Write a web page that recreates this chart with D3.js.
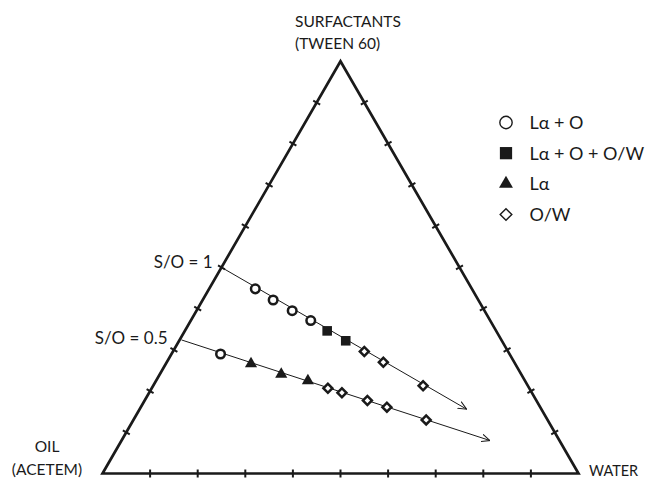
<!DOCTYPE html>
<html>
<head>
<meta charset="utf-8">
<script src="https://cdn.jsdelivr.net/npm/d3@7"></script>
<style>
  html, body { margin: 0; padding: 0; background: #fff; }
  svg { display: block; }
  text { font-family: Lato, "Open Sans", sans-serif; fill: #1a1a1a; }
</style>
</head>
<body>
<svg id="chart" width="651" height="478"></svg>
<script>
// ---------------- data (percent compositions) ----------------
const phases = ["Lα + O", "Lα + O + O/W", "Lα", "O/W"];

// dilution line S/O = 1
const so1Water = [9.7, 14.8, 20.1, 25.2, 29.9, 35.0, 40.2, 45.5, 56.7];
const so1Surf  = [44.8, 42.1, 39.5, 37.1, 34.6, 32.2, 29.6, 27.0, 21.3];
const so1Phase = ["Lα + O", "Lα + O", "Lα + O", "Lα + O", "Lα + O + O/W", "Lα + O + O/W", "O/W", "O/W", "O/W"];
const so1LineWater = [0, 68.7];
const so1LineSurf  = [50, 15.6];

// dilution line S/O = 0.5
const so05Water = [10.3, 17.9, 25.5, 31.9, 37.0, 40.5, 46.8, 51.7, 61.5];
const so05Surf  = [29.0, 26.6, 24.1, 22.5, 20.7, 19.6, 17.7, 16.1, 13.0];
const so05Phase = ["Lα + O", "Lα", "Lα", "Lα", "O/W", "O/W", "O/W", "O/W", "O/W"];
const so05LineWater = [0.4, 77.4];
const so05LineSurf  = [32.4, 8.0];

const lineLabels = ["S/O = 1", "S/O = 0.5"];
const edgeTicks = [10, 20, 30, 40, 50, 60, 70, 80, 90];
const vertexLabels = { top: ["SURFACTANTS", "(TWEEN 60)"], left: ["OIL", "(ACETEM)"], right: ["WATER"] };

// ---------------- layout ----------------
const svg = d3.select("#chart");
const ink = "#1a1a1a";
const O = { x: 102.5, y: 473.5 };   // oil vertex
const W = { x: 578.5, y: 473.5 };   // water vertex
const Th = 412.2;                    // triangle height

// ternary projection built from linear scales
const xs = d3.scaleLinear().domain([0, 100]).range([O.x, W.x]);
const ys = d3.scaleLinear().domain([0, 100]).range([O.y, O.y - Th]);
const px = (w, s) => [xs(w + s / 2), ys(s)];

const oilV = px(0, 0), watV = px(100, 0), topV = px(0, 100);

// triangle
svg.append("path")
  .attr("d", d3.line()([oilV, watV, topV]) + "Z")
  .attr("fill", "none").attr("stroke", ink).attr("stroke-width", 2.7)
  .attr("stroke-linejoin", "miter");

// edge ticks (short marks crossing the edges)
const edges = [
  { a: oilV, b: watV },
  { a: watV, b: topV },
  { a: topV, b: oilV }
];
const tickHalf = 4;
edges.forEach(e => {
  const dx = e.b[0] - e.a[0], dy = e.b[1] - e.a[1];
  const len = Math.hypot(dx, dy);
  const nx = -dy / len, ny = dx / len;
  const t = d3.scaleLinear().domain([0, 100]);
  edgeTicks.forEach(v => {
    const f = t(v);
    const cx = e.a[0] + dx * f, cy = e.a[1] + dy * f;
    svg.append("line")
      .attr("x1", cx - nx * tickHalf).attr("y1", cy - ny * tickHalf)
      .attr("x2", cx + nx * tickHalf).attr("y2", cy + ny * tickHalf)
      .attr("stroke", ink).attr("stroke-width", 2);
  });
});

// arrowhead
svg.append("defs").append("marker")
  .attr("id", "arr").attr("viewBox", "0 0 10 10")
  .attr("refX", 9.5).attr("refY", 5)
  .attr("markerWidth", 9).attr("markerHeight", 9)
  .attr("markerUnits", "userSpaceOnUse")
  .attr("orient", "auto")
  .append("path").attr("d", "M0,0.8 L9.5,5 L0,9.2")
  .attr("fill", "none").attr("stroke", ink).attr("stroke-width", 1.1);

function dilutionLine(wArr, sArr) {
  svg.append("path")
    .attr("d", d3.line()(wArr.map((w, i) => px(w, sArr[i]))))
    .attr("fill", "none").attr("stroke", ink).attr("stroke-width", 1)
    .attr("marker-end", "url(#arr)");
}
dilutionLine(so1LineWater, so1LineSurf);
dilutionLine(so05LineWater, so05LineSurf);

// marker styles per phase
function markerStyle(phase, legend) {
  switch (phase) {
    case "Lα + O":
      return { type: d3.symbolCircle, size: legend ? 120 : 58, fill: "#fff", stroke: legend ? 1.4 : 2.5, rot: 0 };
    case "Lα + O + O/W":
      return { type: d3.symbolSquare, size: legend ? 150 : 92, fill: ink, stroke: 0, rot: 0 };
    case "Lα":
      return { type: d3.symbolTriangle, size: legend ? 84 : 64, fill: ink, stroke: 0, rot: 0 };
    default:
      return { type: d3.symbolSquare, size: legend ? 68 : 40, fill: "#fff", stroke: legend ? 1.4 : 2.5, rot: 45 };
  }
}
function drawMarker(g, phase, x, y, legend) {
  const st = markerStyle(phase, legend);
  g.append("path")
    .attr("d", d3.symbol().type(st.type).size(st.size)())
    .attr("transform", `translate(${x},${y}) rotate(${st.rot})`)
    .attr("fill", st.fill)
    .attr("stroke", st.stroke ? ink : "none")
    .attr("stroke-width", st.stroke);
}

const pts = svg.append("g");
so1Water.forEach((w, i) => { const p = px(w, so1Surf[i]); drawMarker(pts, so1Phase[i], p[0], p[1], false); });
so05Water.forEach((w, i) => { const p = px(w, so05Surf[i]); drawMarker(pts, so05Phase[i], p[0], p[1], false); });

// S/O labels
const s1 = px(so1LineWater[0], so1LineSurf[0]);
const s2 = px(so05LineWater[0], so05LineSurf[0]);
svg.append("text").attr("x", s1[0] - 9).attr("y", s1[1] + 0.5).attr("text-anchor", "end")
  .attr("font-size", 17).text(lineLabels[0]);
svg.append("text").attr("x", s2[0] - 14).attr("y", s2[1] + 4).attr("text-anchor", "end")
  .attr("font-size", 17).text(lineLabels[1]);

// vertex labels
const vfs = 15.5;
svg.append("text").attr("x", 295).attr("y", 27).attr("font-size", vfs).text(vertexLabels.top[0]);
svg.append("text").attr("x", 295).attr("y", 49).attr("font-size", vfs).text(vertexLabels.top[1]);
svg.append("text").attr("x", 47).attr("y", 452).attr("text-anchor", "middle").attr("font-size", vfs).text(vertexLabels.left[0]);
svg.append("text").attr("x", 47).attr("y", 475).attr("text-anchor", "middle").attr("font-size", vfs).text(vertexLabels.left[1]);
svg.append("text").attr("x", 589).attr("y", 475.5).attr("font-size", 14.5).text(vertexLabels.right[0]);

// legend
const lg = svg.append("g");
const legY = d3.scalePoint().domain(phases).range([122.5, 214.5]);
phases.forEach(ph => {
  drawMarker(lg, ph, 506, legY(ph), true);
  lg.append("text").attr("x", 529.5).attr("y", legY(ph) + 6.5)
    .attr("font-size", 18).text(ph);
});
</script>
</body>
</html>
